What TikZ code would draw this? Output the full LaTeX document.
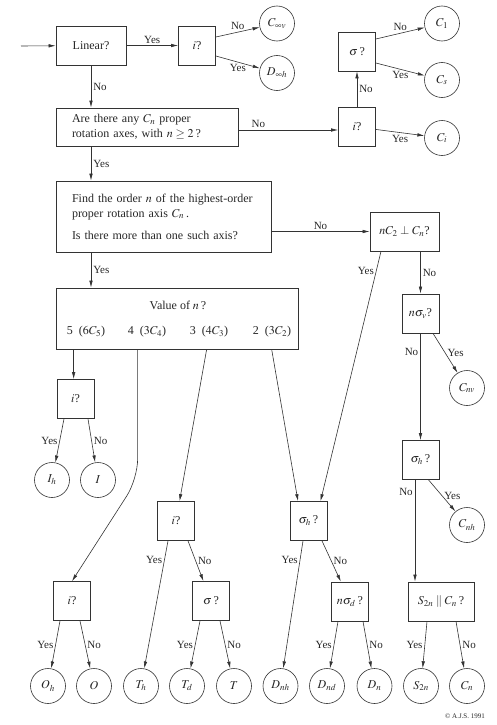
\documentclass[tikz,border=0pt]{standalone}
\usepackage{mathptmx}
\usepackage{fontspec}
\setmainfont{Liberation Serif}
\usetikzlibrary{arrows.meta}
\definecolor{LineClr}{rgb}{0.2,0.2,0.2}
\definecolor{TextClr}{rgb}{0.15,0.15,0.15}

\begin{document}
\begin{tikzpicture}[x=1pt,y=-1pt,
  box/.style={draw=LineClr,line width=.7pt,minimum width=37pt,minimum height=39pt,inner sep=1pt,text=TextClr,font=\fontsize{12}{15}\selectfont},
  grp/.style={circle,draw=LineClr,line width=.6pt,minimum size=35pt,inner sep=0pt,text=TextClr,font=\fontsize{12}{14}\selectfont},
  arr/.style={draw=LineClr,line width=.6pt,-{Latex[length=7pt,width=3.5pt]}},
  lbl/.style={text=TextClr,font=\fontsize{11}{13}\selectfont,inner sep=2pt}]
\useasboundingbox (0,0) rectangle (496,725);

\coordinate (start) at (21,46);
\node[box,minimum width=70pt] (lin) at (91,45.5) {Linear?};
\node[box] (i1) at (197,45.5) {$i$?};
\node[grp] (cinfv) at (277,23.5) {$C_{\infty v}$};
\node[grp] (dinfh) at (277,73) {$D_{\infty h}$};

\node[box,minimum width=182pt,minimum height=38pt,text width=150pt,align=left] (any) at (147,127)
  {Are there any $C_n$ proper\\rotation axes, with $n\geq 2$\,?};
\node[box] (i2) at (357,127) {$i$?};
\node[box] (sig1) at (357,51.5) {$\sigma$\,?};
\node[grp] (c1) at (442,23.5) {$C_1$};
\node[grp] (cs) at (442,80) {$C_s$};
\node[grp] (ci) at (442,138) {$C_i$};

\node[box,minimum width=215pt,minimum height=71pt,text width=183pt,align=left] (find) at (163.5,216.5)
  {Find the order $n$ of the highest-order\\proper rotation axis $C_n$\,.\\[7pt]Is there more than one such axis?};
\node[box,minimum width=69pt] (perp) at (404.5,231.5) {$nC_2\perp C_n$?};

\node[box,minimum width=242pt,minimum height=61pt] (val) at (177,318.5) {};
\node[text=TextClr,font=\fontsize{12}{14}\selectfont] (valq) at (178,305) {Value of $n$\,?};
\node[text=TextClr,font=\fontsize{12}{14}\selectfont] (v5) at (86,332) {5\ \ ($6C_5$)};
\node[text=TextClr,font=\fontsize{12}{14}\selectfont] (v4) at (147,332) {4\ \ ($3C_4$)};
\node[text=TextClr,font=\fontsize{12}{14}\selectfont] (v3) at (209,332) {3\ \ ($4C_3$)};
\node[text=TextClr,font=\fontsize{12}{14}\selectfont] (v2) at (272,332) {2\ \ ($3C_2$)};
\coordinate (s5) at ([xshift=18pt]val.south west);
\coordinate (s4) at ([xshift=82pt]val.south west);
\coordinate (s3) at ([xshift=151pt]val.south west);
\coordinate (s2) at ([xshift=216pt]val.south west);

\node[box] (i3) at (75.5,399) {$i$?};
\node[grp] (ih) at (52,480) {$I_h$};
\node[grp] (ii) at (98,480) {$I$};

\node[box] (i4) at (72,601) {$i$?};
\node[grp] (oh) at (48,686) {$O_h$};
\node[grp] (o) at (94,686) {$O$};

\node[box] (i5) at (176,521) {$i$?};
\node[box] (sig2) at (211,601) {$\sigma$\,?};
\node[grp] (th) at (141,686) {$T_h$};
\node[grp] (td) at (187,686) {$T_d$};
\node[grp] (t) at (234,686) {$T$};

\node[box] (sigh1) at (308.5,521) {$\sigma_h$\,?};
\node[box] (nsd) at (350,601.5) {$n\sigma_d$\,?};
\node[grp] (dnh) at (280.5,686) {$D_{nh}$};
\node[grp] (dnd) at (327,686) {$D_{nd}$};
\node[grp] (dn) at (374.5,686) {$D_n$};

\node[box] (nsv) at (420.5,313.5) {$n\sigma_v$?};
\node[grp] (cnv) at (467,388) {$C_{nv}$};
\node[box] (sigh2) at (420.5,460) {$\sigma_h$\,?};
\node[grp] (cnh) at (467,525) {$C_{nh}$};
\node[box,minimum width=66pt] (s2c) at (441,601.5) {$S_{2n}\parallel C_n$\,?};
\node[grp] (s2n) at (421,686) {$S_{2n}$};
\node[grp] (cn) at (467,686) {$C_n$};

\node[text=TextClr,font=\fontsize{7}{8}\selectfont] (cpr) at (465,716) {\textcopyright\ A.J.S. 1991};

\draw[arr] (start) -- (lin);
\draw[arr] (lin) -- node[lbl,above]{Yes} (i1);
\draw[arr] ([yshift=8.5pt]i1.east) -- node[lbl,above]{No} (cinfv);
\draw[arr] ([yshift=-10.5pt]i1.east) -- node[lbl,below]{Yes} (dinfh);
\draw[arr] (lin.south) -- node[lbl,right]{No} (lin.south |- any.north);
\draw[arr] ([yshift=-3pt]any.east) -- node[lbl,above,pos=.2]{No} ([yshift=-3pt]i2.west);
\draw[arr] (i2) -- node[lbl,below]{Yes} (ci);
\draw[arr] (i2) -- node[lbl,right]{No} (sig1);
\draw[arr] ([yshift=12.5pt]sig1.east) -- node[lbl,above]{No} (c1);
\draw[arr] ([yshift=-11.5pt]sig1.east) -- node[lbl,below]{Yes} (cs);
\draw[arr] (lin.south |- any.south) -- node[lbl,right]{Yes} (lin.south |- find.north);
\draw[arr] (find.east |- perp.west) -- node[lbl,above]{No} (perp.west);
\draw[arr] (lin.south |- find.south) -- node[lbl,right]{Yes} (lin.south |- val.north);

\draw[arr] ([xshift=-23.5pt]perp.south) -- node[lbl,left,pos=.08]{Yes} ([xshift=12pt]sigh1.north);
\draw[arr] (nsv.north |- perp.south) -- node[lbl,right]{No} (nsv.north);
\draw[arr] (nsv) -- node[lbl,left,pos=.17]{No} (sigh2);
\draw[arr] ([xshift=12.5pt]nsv.south) -- node[lbl,right]{Yes} (cnv);
\draw[arr] ([xshift=-5.5pt]sigh2.south) -- node[lbl,left,pos=.12]{No} ([xshift=-5.5pt]sigh2.south |- s2c.north);
\draw[arr] ([xshift=8pt]sigh2.south) -- node[lbl,right]{Yes} (cnh);
\draw[arr] ([xshift=-14pt]s2c.south) -- node[lbl,left]{Yes} (s2n);
\draw[arr] ([xshift=15pt]s2c.south) -- node[lbl,right]{No} (cn);

\draw[arr] (s5) -- (s5 |- i3.north);
\draw[arr] ([xshift=-11.5pt]i3.south) -- node[lbl,left]{Yes} (ih);
\draw[arr] ([xshift=12.5pt]i3.south) -- node[lbl,right]{No} (ii);
\draw[arr,rounded corners=20pt] (s4) -- (s4 |- 0,479) -- (i4.north);
\draw[arr] ([xshift=-12pt]i4.south) -- node[lbl,left]{Yes} (oh);
\draw[arr] ([xshift=8pt]i4.south) -- node[lbl,right]{No} (o);
\draw[arr] (s3) -- (i5);
\draw[arr] ([xshift=-8pt]i5.south) -- node[lbl,left,pos=.15]{Yes} (th);
\draw[arr] ([xshift=12pt]i5.south) -- node[lbl,right]{No} (sig2);
\draw[arr] ([xshift=-11pt]sig2.south) -- node[lbl,left]{Yes} (td);
\draw[arr] ([xshift=9pt]sig2.south) -- node[lbl,right]{No} (t);
\draw[arr] (s2) -- ([xshift=-10.5pt]sigh1.north);
\draw[arr] ([xshift=-5.5pt]sigh1.south) -- node[lbl,left,pos=.15]{Yes} (dnh);
\draw[arr] ([xshift=13.5pt]sigh1.south) -- node[lbl,right]{No} (nsd);
\draw[arr] ([xshift=-12pt]nsd.south) -- node[lbl,left]{Yes} (dnd);
\draw[arr] ([xshift=13pt]nsd.south) -- node[lbl,right]{No} (dn);

\end{tikzpicture}
\end{document}
